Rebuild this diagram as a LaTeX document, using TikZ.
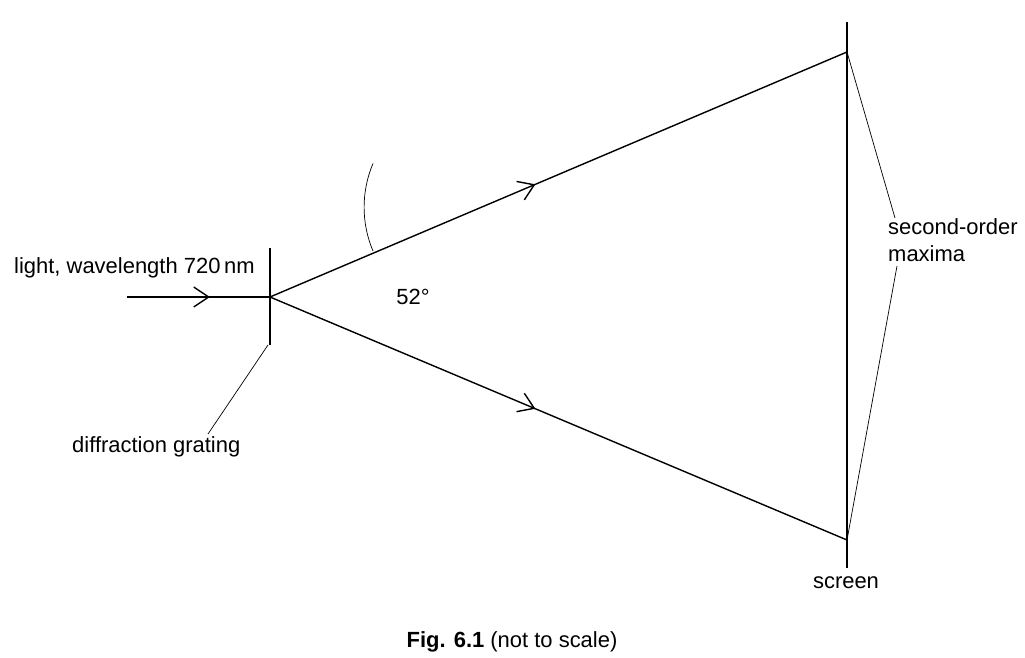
\documentclass[tikz,border=0pt]{standalone}
\usepackage{fontspec}
\setmainfont{Liberation Sans}
\usetikzlibrary{arrows.meta,decorations.markings}
\tikzset{
  ray/.style={thick, postaction={decorate}, decoration={markings,
      mark=at position #1 with {\arrow{Straight Barb[length=3mm,width=4mm]}}}},
  leader/.style={thin},
  lbl/.style={font=\fontsize{12.5}{15}\selectfont, align=left}
}
\begin{document}
\begin{tikzpicture}[x=0.02cm,y=-0.02cm]
  \useasboundingbox (0,0) rectangle (1025,658);
  % grating and screen
  \coordinate (g) at (270,297);
  \draw[very thick] (270,248) -- (270,345);
  \draw[thick] (847,22) -- (847,568);
  \coordinate (top) at (847,52);
  \coordinate (bot) at (847,540);
  % light
  \coordinate (src) at (127,297);
  \draw[ray=0.58] (src) -- (g);
  \draw[ray=0.46] (g) -- (top);
  \draw[ray=0.46] (g) -- (bot);
  % angle
  \draw[leader] (373,251) arc[start angle=-23.0, end angle=23.0, radius=-112];
  \node[lbl] (ang) at (413,297) {52°};
  % labels
  \node[lbl, anchor=west] (light) at (8,268) {light, wavelength 720\,nm};
  \node[lbl, anchor=west] (grat) at (66,447) {diffraction grating};
  \draw[leader] (268,345) -- (208,434);
  \node[lbl, anchor=west] (maxima) at (882,240) {second-order\\maxima};
  \draw[leader] (top) -- (895,218);
  \draw[leader] (bot) -- (897,266);
  \node[lbl] (scr) at (846,583) {screen};
  \node[lbl] (cap) at (512,642) {\textbf{Fig. 6.1} (not to scale)};
\end{tikzpicture}
\end{document}
